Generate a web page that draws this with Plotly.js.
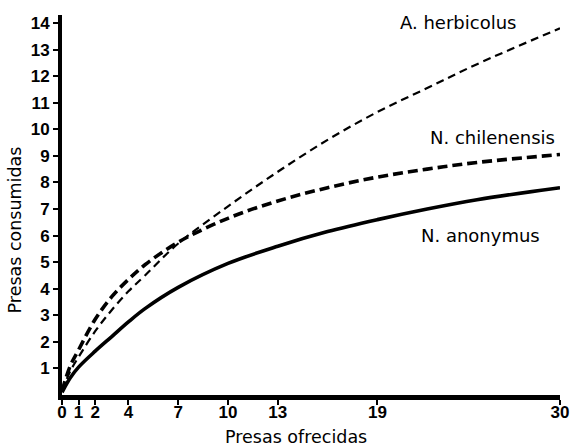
<!DOCTYPE html>
<html>
<head>
<meta charset="utf-8">
<script src="https://cdn.plot.ly/plotly-3.0.1.min.js"></script>
<style>html,body{margin:0;padding:0;background:#fff;}#chart{width:570px;height:447px;}</style>
</head>
<body>
<div id="chart"></div>
<script>
// Presas ofrecidas (x) and Presas consumidas (y)
var xHerb = [0, 0.5, 1, 2, 3, 4, 5, 7, 10, 13, 16, 19, 22, 25, 30];
var yHerb = [0.15, 0.9, 1.43, 2.4, 3.2, 3.9, 4.5, 5.7, 7.1, 8.4, 9.6, 10.65, 11.55, 12.45, 13.8];

var xChil = [0, 0.5, 1, 2, 3, 4, 5, 7, 10, 13, 16, 19, 22, 25, 30];
var yChil = [0.15, 1.1, 1.7, 2.85, 3.7, 4.35, 4.9, 5.75, 6.65, 7.3, 7.8, 8.2, 8.5, 8.75, 9.05];

var xAnon = [0, 0.5, 1, 2, 3, 4, 5, 7, 10, 13, 16, 19, 22, 25, 30];
var yAnon = [0.1, 0.65, 1.05, 1.65, 2.2, 2.75, 3.25, 4.05, 4.95, 5.6, 6.15, 6.6, 7.0, 7.35, 7.8];

var xTicks = [0, 1, 2, 4, 7, 10, 13, 19, 30];
var yTicks = [1, 2, 3, 4, 5, 6, 7, 8, 9, 10, 11, 12, 13, 14];

var seriesNames = ['A. herbicolus', 'N. chilenensis', 'N. anonymus'];
var xTitle = 'Presas ofrecidas';
var yTitle = 'Presas consumidas';

var traces = [
  {x: xHerb, y: yHerb, mode: 'lines', name: seriesNames[0],
   line: {color: '#000', width: 2.2, dash: '8px,5px', shape: 'spline'}},
  {x: xChil, y: yChil, mode: 'lines', name: seriesNames[1],
   line: {color: '#000', width: 3.6, dash: '10px,5px', shape: 'spline'}},
  {x: xAnon, y: yAnon, mode: 'lines', name: seriesNames[2],
   line: {color: '#000', width: 3.6, shape: 'spline'}}
];

var labelFont = {family: 'DejaVu Sans', size: 18, color: '#000'};
var tickFont = {family: 'Liberation Sans', size: 17, color: '#000', weight: 'bold'};

var layout = {
  width: 570, height: 447,
  margin: {l: 62, r: 10, t: 15, b: 52},
  paper_bgcolor: '#fff', plot_bgcolor: '#fff',
  showlegend: false,
  xaxis: {
    range: [0, 30], tickvals: xTicks, ticktext: xTicks.map(String),
    showgrid: false, zeroline: false, showline: true, linewidth: 5, linecolor: '#000',
    ticks: 'outside', ticklen: 5, tickwidth: 2, tickcolor: '#000',
    ticklabelstandoff: -7,
    tickfont: tickFont
  },
  yaxis: {
    range: [0, 14.3], tickvals: yTicks, ticktext: yTicks.map(String),
    showgrid: false, zeroline: false, showline: true, linewidth: 4, linecolor: '#000',
    ticks: 'outside', ticklen: 5, tickwidth: 2, tickcolor: '#000',
    tickfont: tickFont
  },
  annotations: [
    {x: 23.86, y: 14.02, xref: 'x', yref: 'y', text: seriesNames[0], showarrow: false, font: labelFont,
     xanchor: 'center', yanchor: 'middle'},
    {x: 25.96, y: 9.7, xref: 'x', yref: 'y', text: seriesNames[1], showarrow: false, font: labelFont,
     xanchor: 'center', yanchor: 'middle'},
    {x: 25.2, y: 6.0, xref: 'x', yref: 'y', text: seriesNames[2], showarrow: false, font: labelFont,
     xanchor: 'center', yanchor: 'middle'},
    {x: 14.1, y: -0.11, xref: 'x', yref: 'paper', text: xTitle, showarrow: false,
     xanchor: 'center', yanchor: 'middle',
     font: {family: 'DejaVu Sans', size: 17.5, color: '#000'}},
    {x: -0.094, y: 6.2, xref: 'paper', yref: 'y', text: yTitle, showarrow: false, textangle: -90,
     xanchor: 'center', yanchor: 'middle',
     font: {family: 'DejaVu Sans', size: 17.5, color: '#000'}}
  ]
};

Plotly.newPlot('chart', traces, layout, {displayModeBar: false, staticPlot: true});
</script>
</body>
</html>
